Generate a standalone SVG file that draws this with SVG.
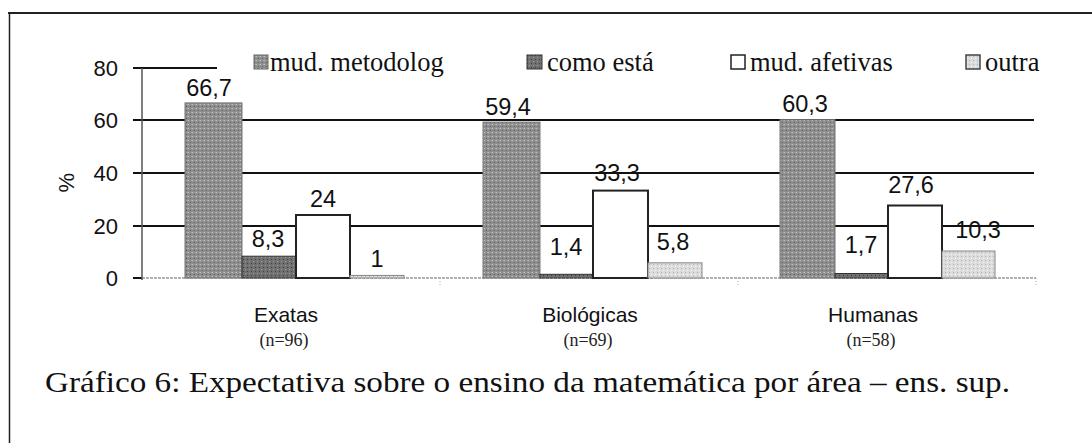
<svg xmlns="http://www.w3.org/2000/svg" width="1092" height="443" viewBox="0 0 1092 443">
  <defs>
    <pattern id="pMet" width="4" height="4" patternUnits="userSpaceOnUse">
      <rect width="4" height="4" fill="#8e8e8e"/>
      <rect x="0" y="0" width="1" height="1" fill="#c4c4c4"/>
      <rect x="2" y="2" width="1" height="1" fill="#5e5e5e"/>
      <rect x="3" y="0" width="1" height="1" fill="#a8a8a8"/>
    </pattern>
    <pattern id="pComo" width="4" height="4" patternUnits="userSpaceOnUse">
      <rect width="4" height="4" fill="#707070"/>
      <rect x="1" y="1" width="1" height="1" fill="#a0a0a0"/>
      <rect x="3" y="3" width="1" height="1" fill="#404040"/>
    </pattern>
    <pattern id="pOutra" width="4" height="4" patternUnits="userSpaceOnUse">
      <rect width="4" height="4" fill="#dcdcdc"/>
      <rect x="1" y="0" width="1" height="1" fill="#b0b0b0"/>
      <rect x="3" y="2" width="1" height="1" fill="#f4f4f4"/>
    </pattern>
  </defs>
  <style>
    .grid { stroke: #111; stroke-width: 2; }
    .met { fill: url(#pMet); stroke: #777; stroke-width: 1; }
    .como { fill: url(#pComo); stroke: #333; stroke-width: 1; }
    .afe { fill: #fff; stroke: #222; stroke-width: 2; }
    .outra { fill: url(#pOutra); stroke: #888; stroke-width: 1; }
    .num { font-family: "Liberation Sans", Arial, sans-serif; font-size: 23.5px; fill: #111; text-anchor: middle; }
    .ax { font-family: "Liberation Sans", Arial, sans-serif; font-size: 22px; fill: #111; text-anchor: end; }
    .cat { font-family: "Liberation Sans", Arial, sans-serif; font-size: 21px; fill: #111; text-anchor: middle; }
    .n { font-family: "Liberation Serif", "Times New Roman", serif; font-size: 18px; fill: #222; text-anchor: middle; }
    .leg { font-family: "Liberation Serif", "Times New Roman", serif; font-size: 26.5px; fill: #111; }
    .cap { font-family: "Liberation Serif", "Times New Roman", serif; font-size: 30px; fill: #111; }
  </style>
  <rect width="1092" height="443" fill="#fff"/>
  <!-- frame -->
  <g id="frame" stroke="#222" fill="none">
    <line x1="8" y1="13" x2="1092" y2="13" stroke-width="2"/>
    <line x1="9.5" y1="13" x2="9.5" y2="443" stroke-width="1.5"/>
  </g>
  <!-- axes and grid -->
  <g id="axes">
    <line class="grid" x1="133" y1="68" x2="217" y2="68"/>
    <line class="grid" x1="133" y1="120" x2="1034" y2="120"/>
    <line class="grid" x1="133" y1="173" x2="1034" y2="173"/>
    <line class="grid" x1="133" y1="226" x2="1034" y2="226"/>
    <line x1="133" y1="278" x2="142" y2="278" stroke="#111" stroke-width="2"/>
    <line x1="142" y1="278" x2="1036" y2="278" stroke="#999" stroke-width="1.5" stroke-dasharray="3 1"/>
    <line x1="142" y1="68" x2="142" y2="280" stroke="#555" stroke-width="1.5"/>
    <g stroke="#aaa" stroke-width="1" stroke-dasharray="1 2">
      <line x1="440" y1="278" x2="440" y2="286"/>
      <line x1="738" y1="278" x2="738" y2="286"/>
      <line x1="1036" y1="278" x2="1036" y2="286"/>
    </g>
    <text class="ax" x="118" y="76">80</text>
    <text class="ax" x="118" y="128">60</text>
    <text class="ax" x="118" y="181">40</text>
    <text class="ax" x="118" y="234">20</text>
    <text class="ax" x="118" y="286">0</text>
    <text class="ax" x="0" y="0" text-anchor="middle" transform="translate(74,173) rotate(-90)">%</text>
  </g>
  <!-- bars -->
  <g id="exatas">
    <rect class="met" x="185" y="102.9" width="57" height="175.1"/>
    <rect class="como" x="242" y="256.2" width="54" height="21.8"/>
    <rect class="afe" x="296" y="215" width="54" height="63"/>
    <rect class="outra" x="350" y="275.4" width="54" height="2.6"/>
    <text class="num" x="209" y="96">66,7</text>
    <text class="num" x="268" y="247">8,3</text>
    <text class="num" x="323" y="207">24</text>
    <text class="num" x="377" y="267">1</text>
    <text class="cat" x="286" y="322">Exatas</text>
    <text class="n" x="284" y="346">(n=96)</text>
  </g>
  <g id="biologicas">
    <rect class="met" x="483" y="122.1" width="57" height="155.9"/>
    <rect class="como" x="540" y="274.3" width="53" height="3.7"/>
    <rect class="afe" x="593" y="190.6" width="55" height="87.4"/>
    <rect class="outra" x="648" y="262.8" width="54" height="15.2"/>
    <text class="num" x="508" y="115">59,4</text>
    <text class="num" x="566" y="255">1,4</text>
    <text class="num" x="617" y="181">33,3</text>
    <text class="num" x="673" y="250">5,8</text>
    <text class="cat" x="590" y="322">Biológicas</text>
    <text class="n" x="588" y="346">(n=69)</text>
  </g>
  <g id="humanas">
    <rect class="met" x="780" y="119.7" width="55" height="158.3"/>
    <rect class="como" x="835" y="273.5" width="53" height="4.5"/>
    <rect class="afe" x="888" y="205.5" width="54" height="72.5"/>
    <rect class="outra" x="942" y="251" width="53" height="27"/>
    <text class="num" x="805" y="112">60,3</text>
    <text class="num" x="861" y="253">1,7</text>
    <text class="num" x="911" y="193">27,6</text>
    <text class="num" x="978" y="238">10,3</text>
    <text class="cat" x="873" y="322">Humanas</text>
    <text class="n" x="871" y="346">(n=58)</text>
  </g>
  <!-- legend -->
  <g id="legend">
    <rect x="254" y="55" width="14" height="14" fill="url(#pMet)" stroke="#666" stroke-width="1"/>
    <text class="leg" x="270" y="71">mud. metodolog</text>
    <rect x="527" y="55" width="15" height="14" fill="url(#pComo)" stroke="#333" stroke-width="1"/>
    <text class="leg" x="547" y="71">como está</text>
    <rect x="731" y="55" width="14" height="14" fill="#fff" stroke="#222" stroke-width="1.5"/>
    <text class="leg" x="750" y="71">mud. afetivas</text>
    <rect x="966" y="55" width="14" height="14" fill="url(#pOutra)" stroke="#444" stroke-width="1.5"/>
    <text class="leg" x="985" y="71">outra</text>
  </g>
  <!-- caption -->
  <text class="cap" x="45" y="392" textLength="965" lengthAdjust="spacingAndGlyphs">Gráfico 6: Expectativa sobre o ensino da matemática por área – ens. sup.</text>
</svg>
